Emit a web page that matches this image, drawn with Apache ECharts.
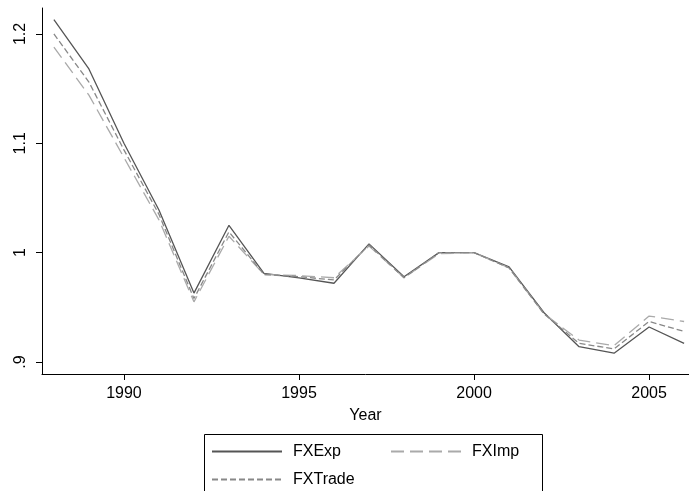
<!DOCTYPE html>
<html><head><meta charset="utf-8">
<script src="https://cdn.jsdelivr.net/npm/echarts@6/dist/echarts.min.js"></script>
<style>html,body{margin:0;padding:0;background:#fff}#c{width:689px;height:491px}</style>
</head><body><div id="c"></div>
<script>
const years = [1988,1989,1990,1991,1992,1993,1994,1995,1996,1997,1998,1999,2000,2001,2002,2003,2004,2005,2006];
const fxExp   = [1.213,1.168,1.100,1.039,0.963,1.025,0.981,0.977,0.972,1.008,0.978,1.000,1.000,0.987,0.945,0.914,0.908,0.932,0.917];
const fxImp   = [1.188,1.144,1.087,1.030,0.955,1.015,0.980,0.979,0.977,1.006,0.977,0.999,1.000,0.986,0.944,0.920,0.915,0.942,0.937];
const fxTrade = [1.200,1.156,1.094,1.035,0.958,1.019,0.980,0.978,0.975,1.007,0.977,1.000,1.000,0.986,0.944,0.917,0.912,0.937,0.928];
const xTicks = [1990,1995,2000,2005];
const yTicks = [0.9,1.0,1.1,1.2];
const yTickLabels = ['.9','1','1.1','1.2'];

const pairs = a => years.map((y,i)=>[y,a[i]]);
const font = 'Liberation Sans, Arial, sans-serif';
const chart = echarts.init(document.getElementById('c'));
chart.setOption({
  animation:false,
  backgroundColor:'#fff',
  grid:{left:42,right:0,top:8,bottom:117},
  xAxis:{type:'value',min:1987.66,max:2006.14,
    name:'Year',nameLocation:'middle',nameGap:34,
    nameTextStyle:{color:'#000',fontSize:16,fontFamily:font},
    axisLine:{lineStyle:{color:'#000',width:1}},
    axisTick:{customValues:xTicks,length:6,lineStyle:{color:'#000'}},
    axisLabel:{customValues:xTicks,color:'#000',fontSize:16,fontFamily:font,margin:12,formatter:v=>String(v)},
    splitLine:{show:false}},
  yAxis:{type:'value',min:0.889,max:1.2237,
    axisLine:{show:true,lineStyle:{color:'#000',width:1}},
    axisTick:{show:true,customValues:yTicks,length:6,lineStyle:{color:'#000'}},
    axisLabel:{customValues:yTicks,rotate:90,color:'#000',fontSize:16,fontFamily:font,margin:13,
      formatter:v=>{const i=yTicks.findIndex(t=>Math.abs(t-v)<1e-6);return i>=0?yTickLabels[i]:'';}},
    splitLine:{show:false}},
  legend:{left:211,top:439,width:380,itemWidth:70,itemHeight:12,itemGap:3,padding:0,
    itemStyle:{opacity:0},
    textStyle:{color:'#000',fontSize:16,fontFamily:font,width:94,lineHeight:25,padding:[0,0,0,6]},
    data:['FXExp','FXImp','FXTrade']},
  graphic:[{type:'rect',shape:{x:204.5,y:434.5,width:338,height:70},style:{fill:'none',stroke:'#000',lineWidth:1}}],
  series:[
    {name:'FXExp',type:'line',data:pairs(fxExp),symbol:'none',lineStyle:{color:'#555',width:1.3,type:'solid'},itemStyle:{color:'#555'}},
    {name:'FXImp',type:'line',data:pairs(fxImp),symbol:'none',lineStyle:{color:'#aaa',width:1.3,type:[13,6]},itemStyle:{color:'#aaa'}},
    {name:'FXTrade',type:'line',data:pairs(fxTrade),symbol:'none',lineStyle:{color:'#888',width:1.3,type:[6,3]},itemStyle:{color:'#888'}}
  ]
});
</script></body></html>
